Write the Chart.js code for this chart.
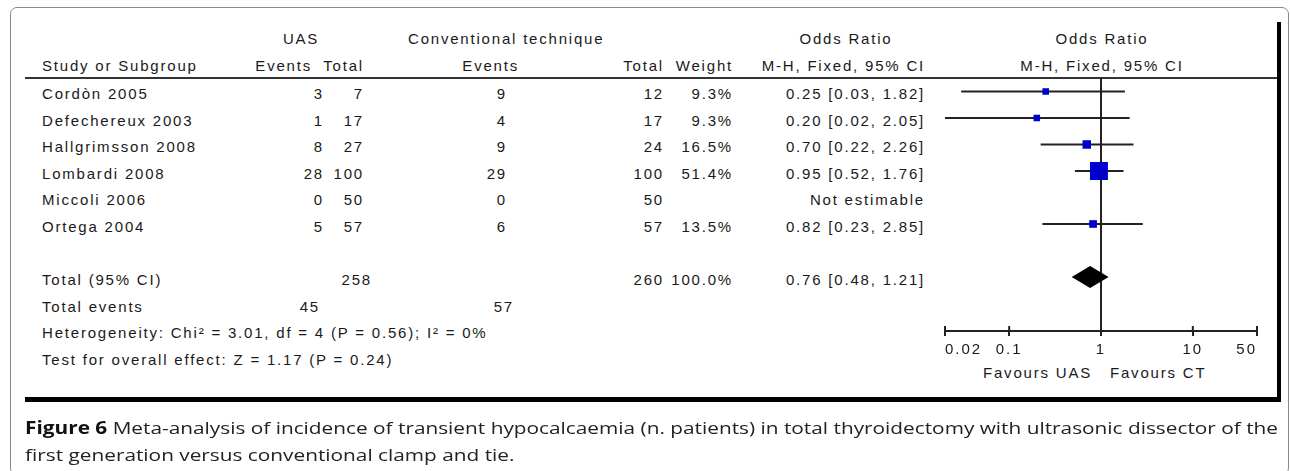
<!DOCTYPE html>
<html>
<head>
<meta charset="utf-8">
<script src="https://cdn.jsdelivr.net/npm/chart.js@4.4.1/dist/chart.umd.min.js"></script>
<style>
  html, body { margin: 0; padding: 0; background: #fff; }
  body { width: 1290px; height: 471px; position: relative; overflow: hidden; font-family: "Liberation Sans", Arial, sans-serif; }
  #frame { position: absolute; left: 10px; top: 7px; width: 1279px; height: 468px; border: 1px solid #8a8a8a; border-radius: 7px; box-sizing: border-box; }
  #fig { position: absolute; left: 25px; top: 22px; width: 1256px; height: 380px; border-right: 4px solid #000; border-bottom: 5px solid #000; box-sizing: border-box; }
  #hdrline { position: absolute; left: 25px; top: 77px; width: 1252px; height: 0; border-top: 2px solid #333; }
  .t { position: absolute; height: 18px; line-height: 18px; font-size: 15px; color: #1a1a1a; white-space: pre; letter-spacing: 1.8px; }
  #chart { position: absolute; left: 0; top: 0; }
  .cap { position: absolute; left: 25px; font-family: "Open Sans", sans-serif; font-size: 17px; color: #222; line-height: 22px; white-space: nowrap; transform-origin: 0 50%; }
  .cap b { color: #111; }
  #cap1 { top: 417px; }
  #cap2 { top: 444px; }
</style>
</head>
<body>
<div id="frame"></div>
<div id="fig"></div>
<div id="hdrline"></div>
<div id="table"></div>
<canvas id="chart" width="1290" height="471"></canvas>
<div class="cap" id="cap1"><b>Figure 6</b> Meta-analysis of incidence of transient hypocalcaemia (n. patients) in total thyroidectomy with ultrasonic dissector of the</div>
<div class="cap" id="cap2">first generation versus conventional clamp and tie.</div>
<script>
// data
const studies = ['Cordòn 2005', 'Defechereux 2003', 'Hallgrimsson 2008', 'Lombardi 2008', 'Miccoli 2006', 'Ortega 2004'];
const uasEvents = [3, 1, 8, 28, 0, 5];
const uasTotal = [7, 17, 27, 100, 50, 57];
const ctEvents = [9, 4, 9, 29, 0, 6];
const ctTotal = [12, 17, 24, 100, 50, 57];
const weights = [9.3, 9.3, 16.5, 51.4, null, 13.5];
const oddsRatio = [0.25, 0.20, 0.70, 0.95, null, 0.82];
const ciLow = [0.03, 0.02, 0.22, 0.52, null, 0.23];
const ciHigh = [1.82, 2.05, 2.26, 1.76, null, 2.85];
const totalUas = 258, totalCt = 260, totalWeight = 100.0;
const totalOR = 0.76, totalLow = 0.48, totalHigh = 1.21;
const eventsUas = 45, eventsCt = 57;
const xTicks = [0.02, 0.1, 1, 10, 50];
const heterogeneity = 'Heterogeneity: Chi² = 3.01, df = 4 (P = 0.56); I² = 0%';
const overallTest = 'Test for overall effect: Z = 1.17 (P = 0.24)';

const totalRow = 7;  // diamond row (one blank row after the studies)

// table layout
const rowY = i => 94 + 26.6 * i;
const cols = { name: 42, uasEv: 322, uasTot: 362, ctEv: 505, ctTot: 662, weight: 731, or: 923 };

const table = document.getElementById('table');
function put(text, x, y, align) {
  const d = document.createElement('div');
  d.className = 't';
  d.textContent = text;
  d.style.top = (y - 9) + 'px';
  if (align === 'r') { d.style.right = (1290 - x - 2) + 'px'; d.style.textAlign = 'right'; }
  else if (align === 'c') { d.style.left = (x - 149) + 'px'; d.style.width = '300px'; d.style.textAlign = 'center'; }
  else d.style.left = x + 'px';
  table.appendChild(d);
}
const fmt = v => v.toFixed(2);

put('UAS', 300, 39, 'c');
put('Conventional technique', 408, 39);
put('Odds Ratio', 845, 39, 'c');
put('Odds Ratio', 1101, 39, 'c');
put('Study or Subgroup', cols.name, 66);
put('Events', 310, 66, 'r');
put('Total', cols.uasTot, 66, 'r');
put('Events', 517, 66, 'r');
put('Total', cols.ctTot, 66, 'r');
put('Weight', cols.weight, 66, 'r');
put('M-H, Fixed, 95% CI', cols.or, 66, 'r');
put('M-H, Fixed, 95% CI', 1101, 66, 'c');

studies.forEach((s, i) => {
  const y = rowY(i);
  put(s, cols.name, y);
  put(String(uasEvents[i]), cols.uasEv, y, 'r');
  put(String(uasTotal[i]), cols.uasTot, y, 'r');
  put(String(ctEvents[i]), cols.ctEv, y, 'r');
  put(String(ctTotal[i]), cols.ctTot, y, 'r');
  put(weights[i] == null ? '' : weights[i].toFixed(1) + '%', cols.weight, y, 'r');
  put(oddsRatio[i] == null ? 'Not estimable' :
      fmt(oddsRatio[i]) + ' [' + fmt(ciLow[i]) + ', ' + fmt(ciHigh[i]) + ']', cols.or, y, 'r');
});
put('Total (95% CI)', cols.name, rowY(totalRow));
put(String(totalUas), 370, rowY(totalRow), 'r');
put(String(totalCt), cols.ctTot, rowY(totalRow), 'r');
put(totalWeight.toFixed(1) + '%', cols.weight, rowY(totalRow), 'r');
put(fmt(totalOR) + ' [' + fmt(totalLow) + ', ' + fmt(totalHigh) + ']', cols.or, rowY(totalRow), 'r');
put('Total events', cols.name, rowY(totalRow + 1));
put(String(eventsUas), 318, rowY(totalRow + 1), 'r');
put(String(eventsCt), 512, rowY(totalRow + 1), 'r');
put(heterogeneity, cols.name, rowY(totalRow + 2));
put(overallTest, cols.name, rowY(totalRow + 3));
put('Favours UAS', 1090, 373, 'r');
put('Favours CT', 1110, 373);

// caption: first line fills the text width
const cap1 = document.getElementById('cap1'), cap2 = document.getElementById('cap2');
const capScale = 1253 / cap1.getBoundingClientRect().width;
cap1.style.transform = cap2.style.transform = 'scaleX(' + capScale + ')';

// square half-side grows with weight
const boxRadius = w => w == null ? 0 : (2 + 0.136 * w) / Math.SQRT1_2;

const forestLines = {
  id: 'forestLines',
  beforeDraw(chart) { chart.ctx.letterSpacing = '2px'; },
  beforeDatasetsDraw(chart) {
    const { ctx, chartArea, scales: { x } } = chart;
    ctx.save();
    ctx.strokeStyle = '#222';
    ctx.lineWidth = 2;
    ctx.beginPath();
    const p1 = x.getPixelForValue(1);
    ctx.moveTo(p1, chartArea.top);
    ctx.lineTo(p1, chartArea.bottom);
    xTicks.forEach(v => {
      const p = x.getPixelForValue(v);
      ctx.moveTo(p, chartArea.bottom - 5);
      ctx.lineTo(p, chartArea.bottom);
    });
    ctx.stroke();
    ctx.restore();
  },
  afterDatasetsDraw(chart) {
    const { ctx, scales: { x, y } } = chart;
    const yc = y.getPixelForValue(totalRow);
    const h = 11;
    ctx.save();
    ctx.fillStyle = '#000';
    ctx.beginPath();
    ctx.moveTo(x.getPixelForValue(totalLow), yc);
    ctx.lineTo(x.getPixelForValue(totalOR), yc - h);
    ctx.lineTo(x.getPixelForValue(totalHigh), yc);
    ctx.lineTo(x.getPixelForValue(totalOR), yc + h);
    ctx.closePath();
    ctx.fill();
    ctx.restore();
  }
};

const ciSets = studies.map((s, i) => ({
  label: s + ' CI',
  data: oddsRatio[i] == null ? [] : [{ x: ciLow[i], y: i }, { x: ciHigh[i], y: i }],
  showLine: true,
  borderColor: '#222',
  borderWidth: 2,
  pointRadius: 0,
  order: 1
}));

new Chart(document.getElementById('chart'), {
  type: 'scatter',
  data: {
    datasets: [{
      label: 'Odds ratio',
      data: studies.map((s, i) => ({ x: oddsRatio[i], y: i })),
      pointStyle: 'rect',
      pointRadius: c => boxRadius(weights[c.dataIndex]),
      backgroundColor: '#0000cc',
      borderWidth: 0,
      order: 0
    }, ...ciSets]
  },
  options: {
    responsive: false,
    animation: false,
    events: [],
    layout: { padding: { left: 945, right: 33, top: 78, bottom: 0 } },
    plugins: { legend: { display: false }, tooltip: { enabled: false } },
    scales: {
      x: {
        type: 'logarithmic',
        min: 0.02,
        max: 50,
        afterBuildTicks: s => { s.ticks = xTicks.map(v => ({ value: v })); },
        afterFit: s => { s.height = 140; },
        grid: { drawOnChartArea: false, tickLength: 5, color: '#222', lineWidth: 2 },
        border: { color: '#222', width: 2 },
        ticks: {
          autoSkip: false, maxRotation: 0, padding: 5, color: '#1a1a1a', align: 'inner',
          font: { family: 'Liberation Sans', size: 15 },
          callback: v => String(v)
        }
      },
      y: { type: 'linear', min: -0.509, max: 9.038, reverse: true, display: false }
    }
  },
  plugins: [forestLines]
});
</script>
</body>
</html>
